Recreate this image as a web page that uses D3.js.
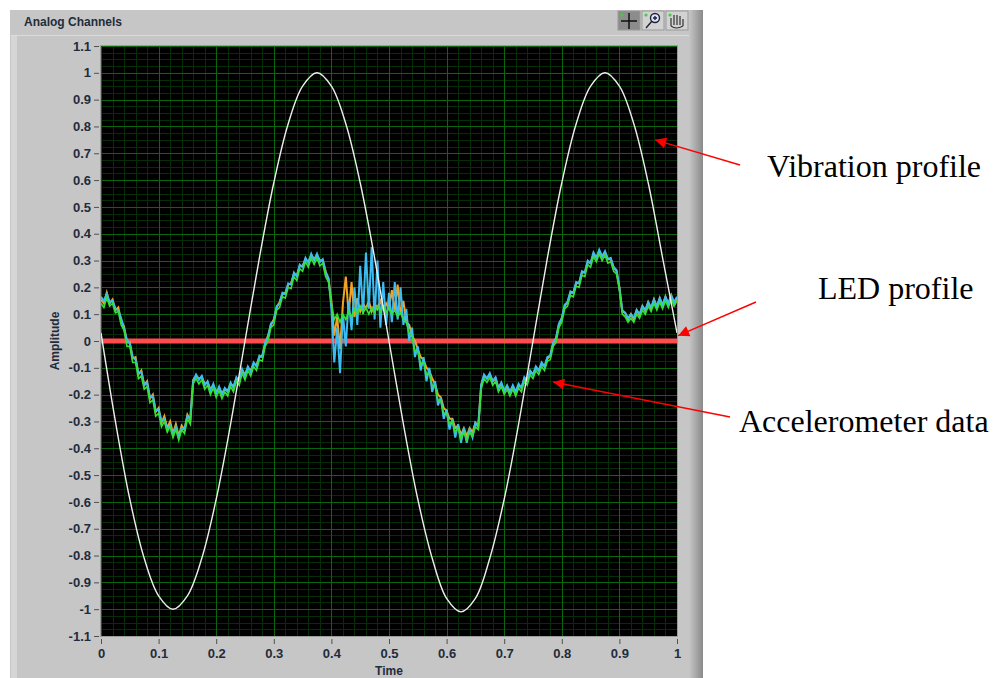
<!DOCTYPE html>
<html lang="en">
<head>
<meta charset="UTF-8">
<title>Analog Channels</title>
<style>
  body { margin: 0; background: #fff; }
  svg { display: block; }
  .tick text { font-family: "Liberation Sans", Arial, sans-serif; font-size: 13px; font-weight: bold; fill: #1f2c3c; }
  .tick line { stroke: #505050; }
  .label { font-family: "Liberation Sans", Arial, sans-serif; font-size: 12px; font-weight: bold; fill: #1f2c3c; }
  .note { font-family: "Liberation Serif", "Times New Roman", serif; font-size: 32px; fill: #000; }
</style>
</head>
<body>
<svg id="chart" width="993" height="678"></svg>
<script src="https://d3js.org/d3.v7.min.js"></script>
<script>
// sample times of the accelerometer channels (0 .. 1 s, every 0.005)
const accelTime = d3.range(201).map(i => i / 200);

const accelGreen = [
  0.14,0.125,0.16,0.13,0.14,0.105,0.11,0.06,0.04,-0.02,-0.02,-0.08,-0.08,-0.14,-0.13,-0.18,-0.17,-0.23,-0.22,-0.28,
  -0.27,-0.32,-0.30,-0.34,-0.32,-0.36,-0.33,-0.37,-0.33,-0.345,-0.29,-0.31,-0.16,-0.14,-0.16,-0.145,-0.18,-0.165,-0.2,-0.175,
  -0.21,-0.185,-0.215,-0.19,-0.205,-0.17,-0.19,-0.15,-0.165,-0.12,-0.145,-0.11,-0.13,-0.095,-0.11,-0.07,-0.075,-0.02,0.0,0.05,
  0.06,0.115,0.125,0.165,0.16,0.2,0.195,0.24,0.225,0.27,0.26,0.295,0.275,0.31,0.285,0.31,0.28,0.29,0.24,0.22,
  0.14,0.08,0.1,0.07,0.1,0.08,0.11,0.09,0.12,0.1,0.13,0.105,0.125,0.1,0.125,0.105,0.13,0.11,0.13,0.105,
  0.125,0.1,0.115,0.09,0.105,0.08,0.07,0.03,0.015,-0.035,-0.04,-0.085,-0.08,-0.125,-0.12,-0.165,-0.17,-0.22,-0.225,-0.27,
  -0.27,-0.31,-0.3,-0.34,-0.325,-0.365,-0.34,-0.37,-0.34,-0.355,-0.32,-0.33,-0.18,-0.14,-0.155,-0.135,-0.165,-0.15,-0.19,-0.17,
  -0.2,-0.18,-0.205,-0.18,-0.205,-0.175,-0.19,-0.15,-0.165,-0.125,-0.14,-0.11,-0.125,-0.095,-0.11,-0.075,-0.07,-0.02,-0.005,0.05,
  0.07,0.12,0.13,0.17,0.165,0.205,0.2,0.245,0.24,0.285,0.275,0.315,0.295,0.325,0.3,0.32,0.29,0.295,0.26,0.25,
  0.19,0.1,0.09,0.07,0.085,0.07,0.1,0.085,0.115,0.1,0.13,0.11,0.14,0.115,0.145,0.12,0.15,0.125,0.155,0.13,
  0.15
];

const accelBlue = [
  0.165,0.15,0.175,0.145,0.15,0.12,0.115,0.085,0.045,0.005,-0.01,-0.06,-0.07,-0.12,-0.115,-0.165,-0.155,-0.21,-0.205,-0.26,
  -0.255,-0.3,-0.29,-0.33,-0.315,-0.35,-0.32,-0.36,-0.325,-0.33,-0.28,-0.29,-0.15,-0.125,-0.145,-0.13,-0.165,-0.15,-0.185,-0.16,
  -0.195,-0.17,-0.2,-0.175,-0.19,-0.155,-0.175,-0.135,-0.15,-0.105,-0.13,-0.095,-0.115,-0.08,-0.095,-0.055,-0.06,-0.005,0.015,0.065,
  0.075,0.13,0.14,0.18,0.175,0.215,0.21,0.255,0.24,0.285,0.275,0.31,0.29,0.325,0.3,0.325,0.295,0.305,0.255,0.235,
  0.12,-0.08,0.05,-0.12,0.1,-0.02,0.15,0.04,0.2,0.06,0.28,0.1,0.33,0.12,0.35,0.08,0.3,0.05,0.22,0.06,
  0.18,0.07,0.22,0.08,0.2,0.06,0.12,0.0,0.05,-0.06,-0.02,-0.11,-0.06,-0.15,-0.1,-0.19,-0.15,-0.24,-0.21,-0.29,
  -0.255,-0.33,-0.29,-0.36,-0.31,-0.38,-0.325,-0.38,-0.33,-0.36,-0.305,-0.32,-0.165,-0.125,-0.14,-0.12,-0.15,-0.135,-0.175,-0.155,
  -0.185,-0.165,-0.19,-0.165,-0.19,-0.16,-0.175,-0.135,-0.15,-0.11,-0.125,-0.095,-0.11,-0.08,-0.095,-0.06,-0.055,-0.005,0.01,0.065,
  0.085,0.135,0.145,0.185,0.18,0.22,0.215,0.26,0.255,0.3,0.29,0.33,0.31,0.34,0.315,0.335,0.305,0.31,0.275,0.265,
  0.2,0.115,0.105,0.085,0.1,0.085,0.115,0.1,0.13,0.115,0.145,0.125,0.155,0.13,0.16,0.135,0.165,0.14,0.17,0.145,
  0.165
];

const accelOrange = [
  0.155,0.14,0.18,0.14,0.155,0.115,0.125,0.075,0.055,-0.005,-0.005,-0.065,-0.06,-0.125,-0.11,-0.165,-0.15,-0.215,-0.2,-0.265,
  -0.25,-0.305,-0.28,-0.325,-0.3,-0.345,-0.31,-0.355,-0.315,-0.33,-0.275,-0.295,-0.145,-0.13,-0.14,-0.135,-0.16,-0.155,-0.18,-0.165,
  -0.19,-0.175,-0.195,-0.18,-0.185,-0.16,-0.17,-0.14,-0.145,-0.11,-0.125,-0.1,-0.11,-0.085,-0.09,-0.06,-0.055,-0.01,0.02,0.06,
  0.08,0.125,0.145,0.175,0.18,0.21,0.215,0.25,0.245,0.28,0.28,0.305,0.295,0.32,0.305,0.32,0.3,0.3,0.26,0.23,
  0.15,0.02,0.09,-0.03,0.14,0.24,0.1,0.22,0.09,0.16,0.11,0.14,0.12,0.15,0.11,0.14,0.12,0.15,0.12,0.14,
  0.12,0.19,0.11,0.21,0.1,0.15,0.07,0.06,0.02,0.0,-0.03,-0.06,-0.07,-0.1,-0.11,-0.14,-0.16,-0.2,-0.21,-0.25,
  -0.26,-0.29,-0.29,-0.325,-0.315,-0.35,-0.325,-0.355,-0.325,-0.34,-0.305,-0.315,-0.165,-0.13,-0.14,-0.125,-0.15,-0.14,-0.175,-0.16,
  -0.185,-0.17,-0.19,-0.17,-0.19,-0.165,-0.175,-0.14,-0.15,-0.115,-0.125,-0.1,-0.11,-0.085,-0.095,-0.065,-0.055,-0.01,0.01,0.06,
  0.085,0.13,0.145,0.18,0.18,0.215,0.215,0.255,0.255,0.295,0.29,0.325,0.31,0.335,0.315,0.33,0.305,0.305,0.275,0.26,
  0.2,0.11,0.105,0.08,0.1,0.08,0.115,0.095,0.13,0.11,0.145,0.12,0.155,0.125,0.16,0.13,0.165,0.135,0.17,0.14,
  0.16
];

// vibration profile (white trace), read every 0.025 s
const vibTime = d3.range(41).map(i => i / 40);
const vibValues = [
  0.03,-0.3,-0.59,-0.81,-0.95,-1.0,-0.95,-0.81,-0.59,-0.31,
  0.0,0.31,0.59,0.81,0.95,1.0,0.95,0.81,0.59,0.31,
  0.0,-0.31,-0.59,-0.81,-0.96,-1.01,-0.96,-0.81,-0.59,-0.31,
  0.0,0.31,0.59,0.81,0.95,1.0,0.95,0.81,0.59,0.31,
  0.03
];

// LED profile (red trace)
const ledTime = [0, 0.25, 0.5, 0.75, 1];
const ledValues = [0, 0, 0, 0, 0];

const xTicks = [0, 0.1, 0.2, 0.3, 0.4, 0.5, 0.6, 0.7, 0.8, 0.9, 1];
const yTicks = d3.range(-11, 12).map(i => i / 10);

const notes = [
  { text: "Vibration profile", x: 767, y: 177, from: [740, 165], tip: [0.962, 0.75] },
  { text: "LED profile", x: 818, y: 299, from: [756, 302], tip: [1.002, 0.02] },
  { text: "Accelerometer data", x: 739, y: 432, from: [730, 417], tip: [0.785, -0.153] }
];

const svg = d3.select("#chart");
const plot = { left: 101, top: 46, right: 677, bottom: 636 };

const x = d3.scaleLinear().domain([0, 1]).range([plot.left, plot.right]);
const y = d3.scaleLinear().domain([-1.1, 1.1]).range([plot.bottom, plot.top]);

// panel
const defs = svg.append("defs");
const grad = defs.append("linearGradient").attr("id", "edge");
grad.append("stop").attr("offset", "0%").attr("stop-color", "#c6c6c6");
grad.append("stop").attr("offset", "100%").attr("stop-color", "#8a8a8a");

svg.append("rect").attr("x", 10).attr("y", 10).attr("width", 693).attr("height", 668).attr("fill", "#c6c6c6");
svg.append("rect").attr("x", 689).attr("y", 10).attr("width", 14).attr("height", 668).attr("fill", "url(#edge)");
svg.append("rect").attr("x", 11).attr("y", 36).attr("width", 6).attr("height", 642).attr("fill", "#d6d6d6");
svg.append("line").attr("x1", 11).attr("x2", 689).attr("y1", 35.5).attr("y2", 35.5).attr("stroke", "#dcdcdc");

svg.append("text").attr("class", "label").attr("x", 24).attr("y", 26).text("Analog Channels");

// graph palette buttons
const btn = svg.append("g");
[[618, "#8c8c8c"], [642, "#d2d2d2"], [666, "#d2d2d2"]].forEach(([bx, fill]) => {
  btn.append("rect").attr("x", bx).attr("y", 11).attr("width", 22).attr("height", 19)
    .attr("fill", fill).attr("stroke", "#9a9a9a");
  btn.append("circle").attr("cx", bx + 4).attr("cy", 15).attr("r", 1.6).attr("fill", "#3fd03f");
});
btn.append("path").attr("d", "M621,21H637M629,13V29").attr("stroke", "#111").attr("stroke-width", 1.5);
btn.append("circle").attr("cx", 655).attr("cy", 18).attr("r", 4.5).attr("fill", "#d8e4ff").attr("stroke", "#223").attr("stroke-width", 1.4);
btn.append("path").attr("d", "M652,21L646,28M653,18H657M655,16V20").attr("stroke", "#223").attr("stroke-width", 1.4);
btn.append("path").attr("d", "M671,26V18M674,25V15M677,25V15M680,25V16M683,26V19M671,26Q676,30 683,26")
  .attr("stroke", "#333").attr("stroke-width", 1.2).attr("fill", "none");

// plot area
svg.append("rect").attr("x", plot.left).attr("y", plot.top)
  .attr("width", plot.right - plot.left).attr("height", plot.bottom - plot.top).attr("fill", "#000");

const grid = svg.append("g");
grid.selectAll(".vmin").data(d3.range(51).map(i => i / 50)).join("line")
  .attr("x1", d => Math.round(x(d)) + 0.5).attr("x2", d => Math.round(x(d)) + 0.5)
  .attr("y1", plot.top).attr("y2", plot.bottom).attr("stroke", "#062e06");
grid.selectAll(".hmin").data(d3.range(89).map(i => -1.1 + i * 0.025)).join("line")
  .attr("y1", d => Math.round(y(d)) + 0.5).attr("y2", d => Math.round(y(d)) + 0.5)
  .attr("x1", plot.left).attr("x2", plot.right).attr("stroke", "#062e06");
grid.selectAll(".vmaj").data(xTicks).join("line")
  .attr("x1", d => Math.round(x(d)) + 0.5).attr("x2", d => Math.round(x(d)) + 0.5)
  .attr("y1", plot.top).attr("y2", plot.bottom).attr("stroke", "#0c660c");
grid.selectAll(".hmaj").data(yTicks).join("line")
  .attr("y1", d => Math.round(y(d)) + 0.5).attr("y2", d => Math.round(y(d)) + 0.5)
  .attr("x1", plot.left).attr("x2", plot.right).attr("stroke", "#0c660c");

defs.append("clipPath").attr("id", "clip").append("rect")
  .attr("x", plot.left).attr("y", plot.top)
  .attr("width", plot.right - plot.left).attr("height", plot.bottom - plot.top);

const traces = svg.append("g").attr("clip-path", "url(#clip)");
const line = d3.line().x(d => x(d[0])).y(d => y(d[1]));

traces.append("path").datum(d3.zip(ledTime, ledValues)).attr("d", line)
  .attr("fill", "none").attr("stroke", "#ff4d4d").attr("stroke-width", 5);

[[accelOrange, "#f2a324", 2], [accelBlue, "#3cbcf2", 2], [accelGreen, "#33e033", 1.6]].forEach(([vals, col, w]) => {
  traces.append("path").datum(d3.zip(accelTime, vals)).attr("d", line)
    .attr("fill", "none").attr("stroke", col).attr("stroke-width", w);
});

traces.append("path").datum(d3.zip(vibTime, vibValues))
  .attr("d", line.curve(d3.curveCatmullRom))
  .attr("fill", "none").attr("stroke", "#eeeeee").attr("stroke-width", 1.4);

svg.append("rect").attr("x", plot.left - 0.5).attr("y", plot.top - 0.5)
  .attr("width", plot.right - plot.left + 1).attr("height", plot.bottom - plot.top + 1)
  .attr("fill", "none").attr("stroke", "#9c9c9c");

// axes
const fmt = d => String(+d.toFixed(1));
const yAxis = svg.append("g").attr("transform", `translate(${plot.left - 2},0)`)
  .call(d3.axisLeft(y).tickValues(yTicks).tickFormat(fmt).tickSize(5).tickSizeOuter(0).tickPadding(3));
const xAxis = svg.append("g").attr("transform", `translate(0,${plot.bottom + 3})`)
  .call(d3.axisBottom(x).tickValues(xTicks).tickFormat(fmt).tickSize(5).tickSizeOuter(0).tickPadding(5));
yAxis.select(".domain").remove();
xAxis.select(".domain").remove();

svg.append("text").attr("class", "label").attr("x", (plot.left + plot.right) / 2).attr("y", 675)
  .attr("text-anchor", "middle").text("Time");
svg.append("text").attr("class", "label").attr("text-anchor", "middle")
  .attr("transform", `translate(59,${y(0)}) rotate(-90)`).text("Amplitude");

// annotations
defs.append("marker").attr("id", "arrow").attr("viewBox", "0 0 10 10")
  .attr("refX", 10).attr("refY", 5).attr("markerUnits", "userSpaceOnUse")
  .attr("markerWidth", 16).attr("markerHeight", 11).attr("orient", "auto")
  .append("path").attr("d", "M0,0L10,5L0,10z").attr("fill", "#ff0000");

notes.forEach(n => {
  svg.append("line").attr("x1", n.from[0]).attr("y1", n.from[1])
    .attr("x2", x(n.tip[0])).attr("y2", y(n.tip[1]))
    .attr("stroke", "#ff0000").attr("stroke-width", 1.4).attr("marker-end", "url(#arrow)");
  svg.append("text").attr("class", "note").attr("x", n.x).attr("y", n.y).text(n.text);
});
</script>
</body>
</html>
